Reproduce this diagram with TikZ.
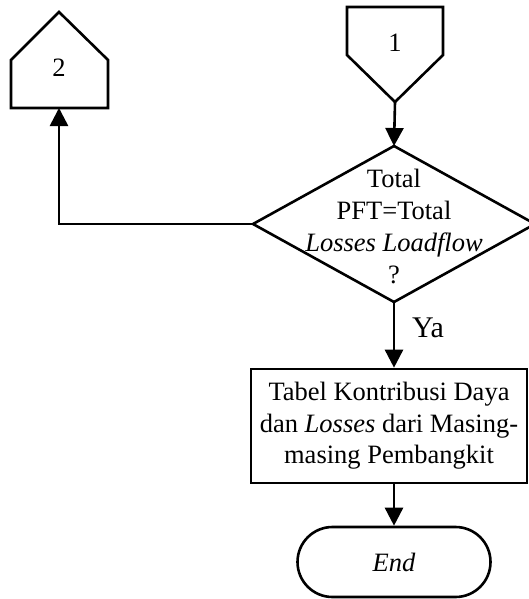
\documentclass[tikz,border=0pt]{standalone}
\usepackage{fontspec}
\setmainfont{Liberation Serif}
\usetikzlibrary{arrows.meta}
\begin{document}
\begin{tikzpicture}[x=1pt,y=-1pt, line width=2.6pt,
  conn/.style={-{Triangle[width=18pt,length=18pt]}},
  lbl/.style={font=\fontsize{26.5}{32}\selectfont, align=center, inner sep=0pt},
  procbox/.style={draw, font=\fontsize{26.5}{31.5}\selectfont, align=center, inner sep=0pt, minimum width=276pt, minimum height=114pt},
  termbox/.style={draw, font=\fontsize{26.5}{31.5}\selectfont, inner sep=0pt, rounded corners=35pt, minimum width=193pt, minimum height=70pt}]
\useasboundingbox (0,0) rectangle (528,599);
% off-page connector 1
\draw (347,7) -- (443,7) -- (443,55) -- (395,102) -- (347,55) -- cycle;
\coordinate (c1b) at (395,102);
\node[lbl] (c1) at (395,43) {1};
% off-page connector 2
\draw (11,108) -- (11,60) -- (59,12) -- (108,60) -- (108,108) -- cycle;
\coordinate (c2b) at (59,108);
\node[lbl] (c2) at (59,68) {2};
% decision
\coordinate (dt) at (394,146);
\coordinate (dl) at (253,224);
\coordinate (dr) at (535,224);
\coordinate (db) at (394,302);
\draw (dt) -- (dr) -- (db) -- (dl) -- cycle;
\node[lbl] (dtext) at (394,226) {Total\\PFT=Total\\\textit{Losses Loadflow}\\?};
% process
\node[procbox] (proc) at (389,426) {Tabel Kontribusi Daya\\dan \textit{Losses} dari Masing-\\masing Pembangkit};
% terminator
\node[termbox] (endn) at (394,562) {\textit{End}};
\node[font=\fontsize{30}{36}\selectfont, inner sep=0pt] (ya) at (428,328) {Ya};
% connectors
\draw[conn] (c1b) -- (dt);
\draw[conn] (dl) -| (c2b);
\draw[conn] (db) -- (db |- proc.north);
\draw[conn] (db |- proc.south) -- (endn.north);
\end{tikzpicture}
\end{document}
